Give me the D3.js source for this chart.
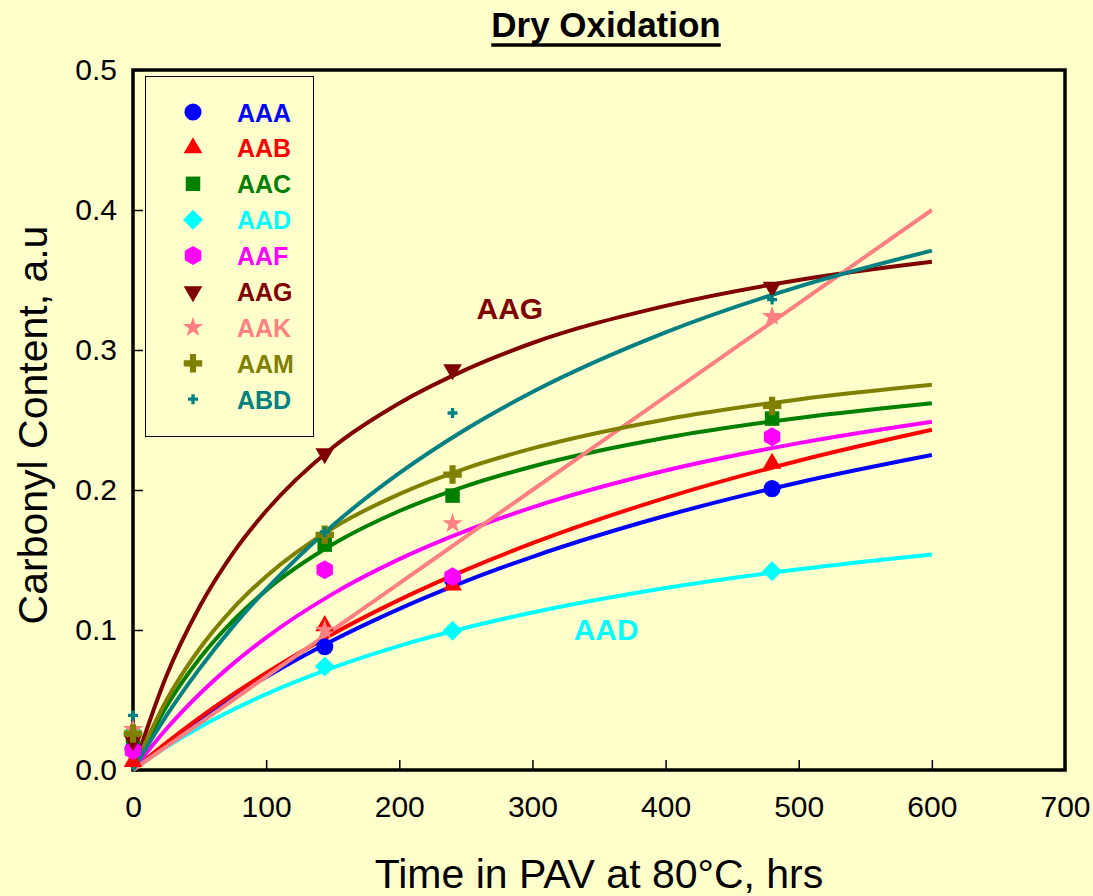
<!DOCTYPE html>
<html><head><meta charset="utf-8">
<script src="https://cdn.jsdelivr.net/npm/d3@7"></script>
<style>
html,body{margin:0;padding:0;background:#FFFFCC;}
svg{display:block;}
text{font-family:Arial,"Liberation Sans",sans-serif;}
</style></head>
<body>
<svg id="chart" width="1093" height="896"></svg>
<script>
// ---- data ----
const seriesNames = ["AAA","AAB","AAC","AAD","AAF","AAG","AAK","AAM","ABD"];
const seriesColors = ["#0000FF","#FF0000","#008000","#00FFFF","#FF00FF","#800000","#FF8080","#808000","#008080"];
const sampleTimes = [0,144,240,480];
const ptsAAA = [0.015,0.088,0.136,0.201];
const ptsAAB = [0.006,0.103,0.132,0.219];
const ptsAAC = [0.024,0.161,0.196,0.251];
const ptsAAD = [0.026,0.074,0.0995,0.142];
const ptsAAF = [0.014,0.143,0.138,0.238];
const ptsAAG = [0.021,0.226,0.286,0.345];
const ptsAAK = [0.029,0.100,0.176,0.324];
const ptsAAM = [0.026,0.168,0.211,0.260];
const ptsABD = [0.039,0.170,0.255,0.336];
// fitted curves
const fitTimes = [0,25,50,75,100,150,200,250,300,400,500,600];
const fitAAA = [0,0.0188,0.036,0.0518,0.0664,0.0925,0.1151,0.1349,0.1523,0.1816,0.2054,0.225];
const fitAAB = [0,0.0194,0.0374,0.054,0.0694,0.0972,0.1215,0.1429,0.162,0.1944,0.2209,0.243];
const fitAAC = [0,0.0452,0.0796,0.1065,0.1283,0.1612,0.185,0.2028,0.2168,0.2373,0.2515,0.262];
const fitAAD = [0,0.0163,0.0305,0.043,0.0542,0.0731,0.0887,0.1016,0.1125,0.130,0.1434,0.154];
const fitAAF = [0,0.0293,0.0543,0.0758,0.0946,0.1258,0.1506,0.1708,0.1876,0.2139,0.2335,0.2488];
const fitAAG = [0,0.067,0.1166,0.1548,0.185,0.2304,0.262,0.286,0.305,0.3315,0.350,0.363];
const fitAAK = [0,0.0167,0.0333,0.050,0.0667,0.100,0.1333,0.1667,0.200,0.2667,0.3333,0.400];
const fitAAM = [0,0.0496,0.0866,0.1153,0.1383,0.1727,0.1971,0.2155,0.2297,0.2504,0.2647,0.2751];
const fitABD = [0,0.0386,0.0724,0.1024,0.129,0.1747,0.212,0.2434,0.270,0.3126,0.3453,0.371];
const xTicks = [0,100,200,300,400,500,600,700];
const yTicks = [0.0,0.1,0.2,0.3,0.4,0.5];
const titleText = "Dry Oxidation";
const xTitle = "Time in PAV at 80°C, hrs";
const yTitle = "Carbonyl Content, a.u";
const annotations = [{name:"AAG", t:258, v:0.322},{name:"AAD", t:331, v:0.0928}];

const points = [ptsAAA,ptsAAB,ptsAAC,ptsAAD,ptsAAF,ptsAAG,ptsAAK,ptsAAM,ptsABD];
const fits = [fitAAA,fitAAB,fitAAC,fitAAD,fitAAF,fitAAG,fitAAK,fitAAM,fitABD];

// ---- layout ----
const L=133, R=1065, T=70, B=770;
const svg = d3.select("#chart");
svg.append("rect").attr("width",1093).attr("height",896).attr("fill","#FFFFCC");
const x = d3.scaleLinear().domain([0,700]).range([L,R]);
const y = d3.scaleLinear().domain([0,0.5]).range([B,T]);

// axes
const gx = svg.append("g").attr("transform",`translate(0,${B})`)
  .call(d3.axisBottom(x).tickValues(xTicks).tickFormat(d3.format("d")).tickSize(-10).tickPadding(26));
gx.select(".domain").remove();
gx.selectAll("line").attr("stroke","#000").attr("stroke-width",1.5);
gx.selectAll("text").attr("font-size",30).attr("fill","#000").style("font-family","Arial, 'Liberation Sans', sans-serif");
const gy = svg.append("g").attr("transform",`translate(${L},0)`)
  .call(d3.axisLeft(y).tickValues(yTicks).tickFormat(d3.format(".1f")).tickSize(-10).tickPadding(16));
gy.select(".domain").remove();
gy.selectAll("line").attr("stroke","#000").attr("stroke-width",1.5);
gy.selectAll("text").attr("font-size",30).attr("fill","#000").style("font-family","Arial, 'Liberation Sans', sans-serif");

// frame
svg.append("rect").attr("x",L).attr("y",T).attr("width",R-L).attr("height",B-T)
  .attr("fill","none").attr("stroke","#000").attr("stroke-width",3.5);

// symbols
function hexPath(r){const p=[];for(let i=0;i<6;i++){const a=Math.PI/2+i*Math.PI/3;p.push([r*Math.cos(a),r*Math.sin(a)]);}return "M"+p.map(d=>d.join(",")).join("L")+"Z";}
function diamondPath(r){return `M0,${-r}L${r},0L0,${r}L${-r},0Z`;}
function symbolFor(i){
  switch(i){
    case 0: return {d:d3.symbol(d3.symbolCircle,230)(), rot:0};
    case 1: return {d:d3.symbol(d3.symbolTriangle,150)(), rot:0};
    case 2: return {d:d3.symbol(d3.symbolSquare,210)(), rot:0};
    case 3: return {d:diamondPath(10), rot:0};
    case 4: return {d:hexPath(9.5), rot:0};
    case 5: return {d:d3.symbol(d3.symbolTriangle,150)(), rot:180};
    case 6: return {d:d3.symbol(d3.symbolStar,130)(), rot:0};
    case 7: return {d:d3.symbol(d3.symbolCross,190)(), rot:0};
    case 8: return {d:d3.symbol(d3.symbolCross,55)(), rot:0};
  }
}

// lines
const line = d3.line().x(d=>x(d[0])).y(d=>y(d[1])).curve(d3.curveMonotoneX);
fits.forEach((f,i)=>{
  svg.append("path").datum(fitTimes.map((t,j)=>[t,f[j]]))
    .attr("d",line).attr("fill","none").attr("stroke",seriesColors[i]).attr("stroke-width",4);
});
// markers
points.forEach((p,i)=>{
  const s = symbolFor(i);
  svg.append("g").selectAll("path").data(sampleTimes.map((t,j)=>[t,p[j]])).join("path")
    .attr("d",s.d).attr("fill",seriesColors[i])
    .attr("transform",d=>`translate(${x(d[0])},${y(d[1])}) rotate(${s.rot})`);
});

// legend
const lg = svg.append("g");
lg.append("rect").attr("x",145.5).attr("y",76.5).attr("width",168).attr("height",360)
  .attr("fill","#FFFFCC").attr("stroke","#000").attr("stroke-width",1);
seriesNames.forEach((n,i)=>{
  const cy = 112 + i*35.9;
  const s = symbolFor(i);
  lg.append("path").attr("d",s.d).attr("fill",seriesColors[i])
    .attr("transform",`translate(193,${cy}) rotate(${s.rot})`);
  lg.append("text").attr("x",237).attr("y",cy+9.5).attr("font-size",25).attr("font-weight","bold")
    .attr("fill",seriesColors[i]).text(n);
});

// annotations
annotations.forEach(a=>{
  const i = seriesNames.indexOf(a.name);
  svg.append("text").attr("x",x(a.t)).attr("y",y(a.v)).attr("font-size",30).attr("font-weight","bold")
    .attr("fill",seriesColors[i]).text(a.name);
});

// title
const tt = svg.append("text").attr("x",606).attr("y",37).attr("text-anchor","middle")
  .attr("font-size",35).attr("font-weight","bold").attr("fill","#000").text(titleText);
const tw = tt.node().getComputedTextLength();
svg.append("line").attr("x1",606-tw/2).attr("x2",606+tw/2).attr("y1",45).attr("y2",45)
  .attr("stroke","#000").attr("stroke-width",3.5);

// axis titles
svg.append("text").attr("x",599).attr("y",888).attr("text-anchor","middle").attr("font-size",41)
  .attr("fill","#000").text(xTitle);
svg.append("text").attr("transform","translate(47,425) rotate(-90)").attr("text-anchor","middle")
  .attr("font-size",41).attr("fill","#000").text(yTitle);
</script>
</body></html>
